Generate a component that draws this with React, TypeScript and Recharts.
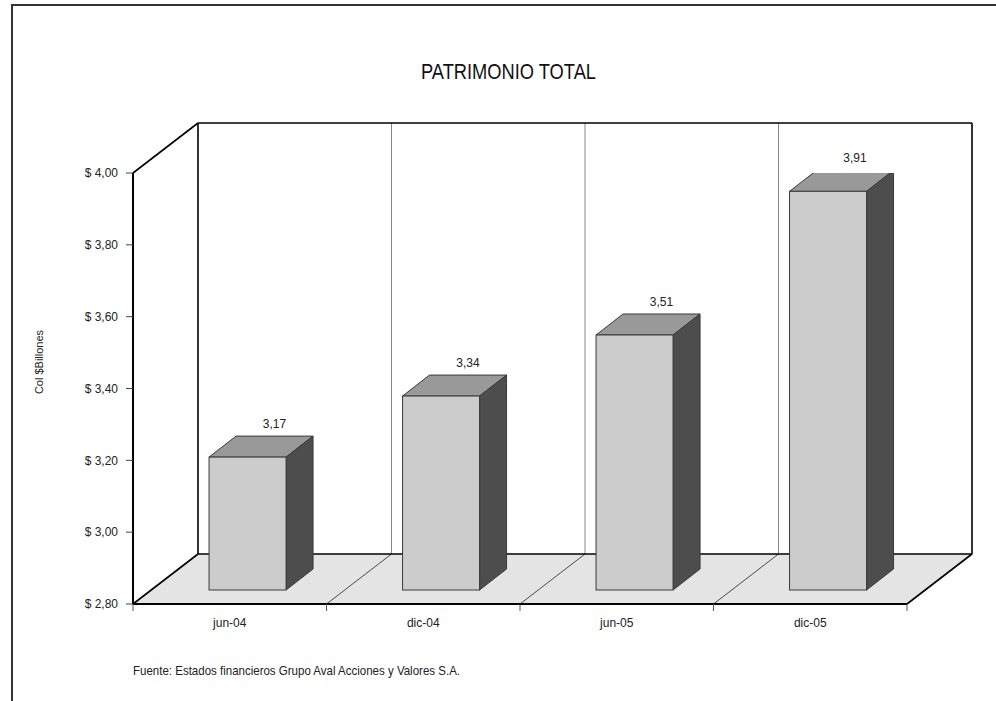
import { BarChart, Bar, XAxis, YAxis, LabelList } from "recharts";

const periods = ["jun-04", "dic-04", "jun-05", "dic-05"];
const patrimonio = [3.17, 3.34, 3.51, 3.91];
const yTicks = [2.8, 3.0, 3.2, 3.4, 3.6, 3.8, 4.0];

const data = periods.map((p, i) => ({ periodo: p, valor: patrimonio[i] }));

// layout of the front plane and the 3D box
const W = 996;
const H = 701;
const LEFT = 133;
const TOP = 173;
const RIGHT = 907;
const BOTTOM = 604;
const DX = 65;
const DY = -50;
const BAND = (RIGHT - LEFT) / periods.length;
// bars stand a little back from the front edge, with a shallower depth
const OFF_X = 18;
const OFF_Y = -14;
const BAR_DX = 27;
const BAR_DY = -21;

const SANS = "'Liberation Sans', Arial, sans-serif";

const fmt = (v: number) => v.toFixed(2).replace(".", ",");

const Bar3D = (props: any) => {
  const { x, y, width, height } = props;
  const fx = x + OFF_X;
  const fy = y + OFF_Y;
  const s = "#3a3a3a";
  const top = `${fx},${fy} ${fx + BAR_DX},${fy + BAR_DY} ${fx + width + BAR_DX},${fy + BAR_DY} ${fx + width},${fy}`;
  const side = `${fx + width},${fy} ${fx + width + BAR_DX},${fy + BAR_DY} ${fx + width + BAR_DX},${fy + height + BAR_DY} ${fx + width},${fy + height}`;
  return (
    <g>
      <polygon points={top} fill="#999999" stroke={s} strokeWidth={1} />
      <polygon points={side} fill="#4d4d4d" stroke={s} strokeWidth={1} />
      <rect x={fx} y={fy} width={width} height={height} fill="#cccccc" stroke={s} strokeWidth={1} />
    </g>
  );
};

// value printed just above the back edge of the bar's top face
const ValueLabel = (props: any) => {
  const { x, y, width, value } = props;
  return (
    <text
      x={x + width / 2 + OFF_X + BAR_DX}
      y={y + OFF_Y + BAR_DY - 8}
      textAnchor="middle"
      fontSize={12}
      fill="#222"
      fontFamily={SANS}
    >
      {fmt(Number(value))}
    </text>
  );
};

const CategoryTick = (props: any) => {
  const { x, y, payload, index } = props;
  const last = index === periods.length - 1;
  return (
    <g>
      <line x1={x - BAND / 2} y1={BOTTOM} x2={x - BAND / 2} y2={BOTTOM + 7} stroke="#555" />
      {last && <line x1={x + BAND / 2} y1={BOTTOM} x2={x + BAND / 2} y2={BOTTOM + 7} stroke="#555" />}
      <text x={x} y={y + 15} textAnchor="middle" fontSize={12} fill="#222" fontFamily={SANS}>
        {payload.value}
      </text>
    </g>
  );
};

// walls, floor, titles and the outer frame, drawn behind the chart
const Box = () => {
  const bl = LEFT + DX;
  const br = RIGHT + DX;
  const bt = TOP + DY;
  const bb = BOTTOM + DY;
  const inner = [1, 2, 3];
  return (
    <svg width={W} height={H} style={{ position: "absolute", left: 0, top: 0 }}>
      <polyline points={`12,${H} 12,5 ${W},5`} fill="none" stroke="#333" strokeWidth={2} />
      <text
        x={421}
        y={79}
        fontSize={22}
        fill="#111"
        fontFamily={SANS}
        textLength={175}
        lengthAdjust="spacingAndGlyphs"
      >
        PATRIMONIO TOTAL
      </text>
      <text
        transform="translate(43,362) rotate(-90)"
        textAnchor="middle"
        fontSize={11}
        fill="#222"
        fontFamily={SANS}
      >
        Col $Billones
      </text>
      <text
        x={133}
        y={675}
        fontSize={13}
        fill="#222"
        fontFamily={SANS}
        textLength={327}
        lengthAdjust="spacingAndGlyphs"
      >
        Fuente: Estados financieros Grupo Aval Acciones y Valores S.A.
      </text>

      <polygon points={`${LEFT},${TOP} ${bl},${bt} ${bl},${bb} ${LEFT},${BOTTOM}`} fill="#fff" />
      <rect x={bl} y={bt} width={br - bl} height={bb - bt} fill="#fff" />
      {inner.map((k) => (
        <line key={`g${k}`} x1={bl + BAND * k} y1={bt} x2={bl + BAND * k} y2={bb} stroke="#888" />
      ))}
      <polygon
        points={`${LEFT},${BOTTOM} ${RIGHT},${BOTTOM} ${br},${bb} ${bl},${bb}`}
        fill="#e4e4e4"
      />
      {inner.map((k) => (
        <line
          key={`f${k}`}
          x1={LEFT + BAND * k}
          y1={BOTTOM}
          x2={LEFT + BAND * k + DX}
          y2={bb}
          stroke="#222"
          strokeWidth={0.8}
        />
      ))}
      <g stroke="#000" strokeWidth={1.6} fill="none">
        <line x1={LEFT} y1={TOP} x2={bl} y2={bt} />
        <line x1={bl} y1={bt} x2={br} y2={bt} />
        <line x1={bl} y1={bt} x2={bl} y2={bb} />
        <line x1={br} y1={bt} x2={br} y2={bb} />
        <line x1={bl} y1={bb} x2={br} y2={bb} />
        <line x1={LEFT} y1={BOTTOM} x2={bl} y2={bb} />
        <line x1={RIGHT} y1={BOTTOM} x2={br} y2={bb} />
      </g>
    </svg>
  );
};

export default function App() {
  return (
    <div
      style={{ position: "absolute", left: 0, top: 0, width: W, height: H, background: "#fff", fontFamily: SANS }}
    >
      <Box />
      <div style={{ position: "absolute", left: 0, top: 0 }}>
        <BarChart
          width={W}
          height={H}
          data={data}
          margin={{ top: TOP, right: W - RIGHT, bottom: H - BOTTOM - 30, left: 0 }}
          barCategoryGap="30%"
        >
          <XAxis
            dataKey="periodo"
            height={30}
            tickLine={false}
            axisLine={{ stroke: "#000", strokeWidth: 2 }}
            tick={<CategoryTick />}
            interval={0}
          />
          <YAxis
            width={LEFT}
            domain={[2.8, 4.0]}
            ticks={yTicks}
            allowDataOverflow
            tickFormatter={(v: number) => `$ ${fmt(v)}`}
            tickSize={7}
            tickMargin={8}
            tickLine={{ stroke: "#444" }}
            axisLine={{ stroke: "#000", strokeWidth: 2 }}
            tick={{ fontSize: 12, fill: "#222", fontFamily: SANS }}
          />
          <Bar dataKey="valor" shape={<Bar3D />} isAnimationActive={false}>
            <LabelList dataKey="valor" content={<ValueLabel />} />
          </Bar>
        </BarChart>
      </div>
    </div>
  );
}
